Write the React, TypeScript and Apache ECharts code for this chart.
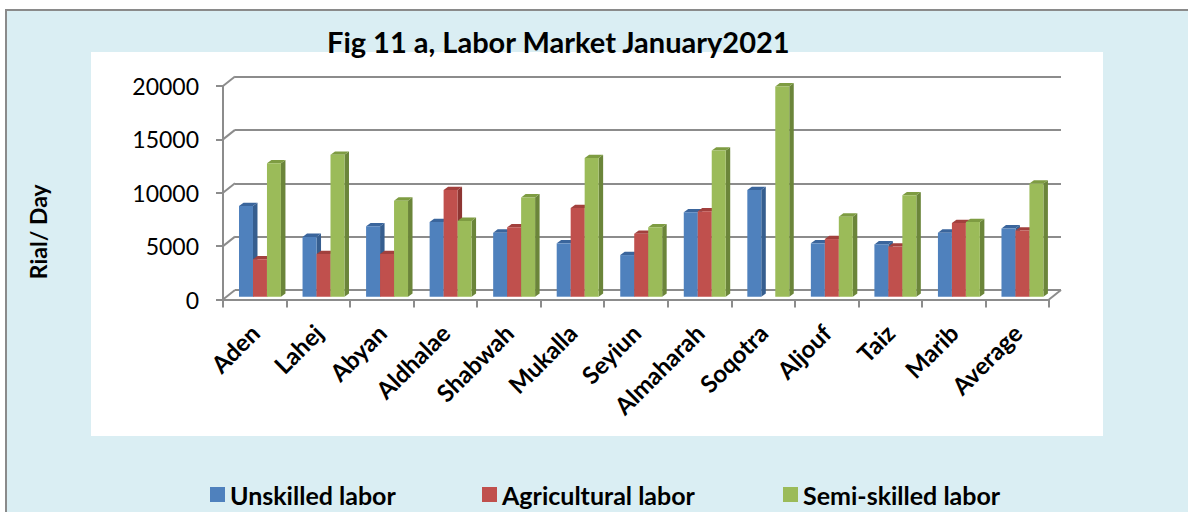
import React, { useEffect, useRef } from "react";
import * as echarts from "echarts";

const categories = ["Aden", "Lahej", "Abyan", "Aldhalae", "Shabwah", "Mukalla", "Seyiun", "Almaharah", "Soqotra", "Aljouf", "Taiz", "Marib", "Average"];
const unskilled = [8500, 5600, 6600, 7000, 6000, 5000, 3900, 7900, 10000, 5000, 4900, 6000, 6400];
const agricultural = [3500, 4000, 4000, 10000, 6500, 8300, 5900, 8000, null, 5400, 4700, 6900, 6200];
const semiSkilled = [12500, 13300, 9000, 7100, 9300, 13000, 6500, 13700, 19700, 7500, 9500, 7000, 10600];
const yTicks = [0, 5000, 10000, 15000, 20000];
const seriesNames = ["Unskilled labor", "Agricultural labor", "Semi-skilled labor"];

const FONT = 'Lato, "Open Sans", sans-serif';
const GRID_COLOR = "#8C8C8C";
const DEPTH_X = 12;
const DEPTH_Y = 9.5;
const BAR_DX = 4.5;
const BAR_DY = 3.3;
const LIFT = 2.8;

const palettes = [
  { front: "#4F81BD", side: "#365E8F", top: "#3A659C" },
  { front: "#C0504D", side: "#8E3633", top: "#A2403D" },
  { front: "#9BBB59", side: "#6B853A", top: "#7E9C42" },
];

function barRenderer(s: number) {
  const p = palettes[s];
  return (params: any, api: any) => {
    const v = api.value(1);
    if (v == null || isNaN(v)) return null;
    const idx = api.value(0);
    const a = api.coord([idx, v]);
    const b = api.coord([idx, 0]);
    const cw = api.size([1, 0])[0];
    const w = cw * 0.22;
    const x0 = a[0] - cw / 2 + cw * 0.252 + s * w;
    const top = a[1] - LIFT;
    const bot = b[1] - LIFT;
    return {
      type: "group",
      children: [
        {
          type: "polygon",
          shape: { points: [[x0 + w, top], [x0 + w + BAR_DX, top - BAR_DY], [x0 + w + BAR_DX, bot - BAR_DY], [x0 + w, bot]] },
          style: { fill: p.side },
        },
        {
          type: "polygon",
          shape: { points: [[x0, top], [x0 + BAR_DX, top - BAR_DY], [x0 + w + BAR_DX, top - BAR_DY], [x0 + w, top]] },
          style: { fill: p.top },
        },
        {
          type: "rect",
          shape: { x: x0, y: top, width: w, height: bot - top },
          style: { fill: p.front },
        },
      ],
    };
  };
}

function diagRenderer(params: any, api: any) {
  const v = api.value(0);
  const cs = params.coordSys;
  const y = api.coord([0, v])[1];
  const children: any[] = [
    { type: "line", shape: { x1: cs.x, y1: y, x2: cs.x + DEPTH_X, y2: y - DEPTH_Y }, style: { stroke: GRID_COLOR, lineWidth: 2 } },
  ];
  if (v === 0) {
    const xr = cs.x + cs.width;
    children.push({ type: "line", shape: { x1: xr, y1: y, x2: xr + DEPTH_X, y2: y - DEPTH_Y }, style: { stroke: GRID_COLOR, lineWidth: 2 } });
  }
  return { type: "group", children };
}

export default function App() {
  const ref = useRef<HTMLDivElement>(null);
  useEffect(() => {
    if (!ref.current) return;
    const chart = echarts.init(ref.current, null, { renderer: "svg" });
    const seriesData = [unskilled, agricultural, semiSkilled];
    const option: any = {
      animation: false,
      textStyle: { fontFamily: FONT },
      graphic: [
        { type: "rect", z: -10, silent: true, shape: { x: 6, y: 10, width: 1200, height: 520 }, style: { fill: "#DAEEF3", stroke: "#8A8A8A", lineWidth: 2 } },
        { type: "rect", z: -9, silent: true, shape: { x: 91, y: 52, width: 1012, height: 384 }, style: { fill: "#FFFFFF" } },
      ],
      title: {
        text: "Fig 11 a, Labor Market January2021",
        left: 327,
        top: 27,
        padding: 0,
        textStyle: { fontFamily: FONT, fontWeight: "bold", fontSize: 29, color: "#000" },
      },
      legend: seriesNames.map((n, i) => ({
        data: [n],
        left: [210, 482, 783][i],
        top: 482,
        icon: "rect",
        itemWidth: 15,
        itemHeight: 15,
        itemGap: 0,
        padding: 0,
        textStyle: { fontFamily: FONT, fontWeight: "bold", fontSize: 25, color: "#000" },
      })),
      grid: [
        { left: 223, top: 86, width: 826, height: 213.5 },
        { left: 223 + DEPTH_X, top: 86 - DEPTH_Y, width: 826, height: 213.5 },
      ],
      xAxis: [
        {
          type: "category",
          gridIndex: 0,
          data: categories,
          axisLine: { show: true, lineStyle: { color: GRID_COLOR, width: 2 } },
          axisTick: { show: true, length: 8, interval: 0, lineStyle: { color: GRID_COLOR, width: 2 } },
          axisLabel: { interval: 0, rotate: 45, margin: 29, color: "#000", fontFamily: FONT, fontWeight: "bold", fontSize: 24 },
          splitLine: { show: false },
        },
        {
          type: "category",
          gridIndex: 1,
          data: categories,
          show: false,
        },
      ],
      yAxis: [
        {
          type: "value",
          gridIndex: 0,
          min: 0,
          max: 20000,
          interval: 5000,
          name: "Rial/ Day",
          nameLocation: "middle",
          nameRotate: 90,
          nameGap: 174,
          nameTextStyle: { fontFamily: FONT, fontWeight: "bold", fontSize: 23, color: "#000", padding: [0, 78, 0, 0] },
          axisLine: { show: true, lineStyle: { color: GRID_COLOR, width: 2 } },
          axisTick: { show: true, length: 7, lineStyle: { color: GRID_COLOR, width: 2 } },
          axisLabel: { margin: 24, color: "#000", fontFamily: FONT, fontSize: 23, formatter: (v: number) => String(v) },
          splitLine: { show: false },
        },
        {
          type: "value",
          gridIndex: 1,
          min: 0,
          max: 20000,
          interval: 5000,
          axisLine: { show: false },
          axisTick: { show: false },
          axisLabel: { show: false },
          splitLine: { show: true, lineStyle: { color: GRID_COLOR, width: 2 } },
        },
      ],
      series: [
        {
          type: "custom",
          name: "diag",
          xAxisIndex: 0,
          yAxisIndex: 0,
          silent: true,
          renderItem: diagRenderer,
          data: yTicks.map((v) => [v]),
          encode: { y: 0 },
          z: 1,
        },
        ...seriesNames.map((n, s) => ({
          type: "custom",
          name: n,
          xAxisIndex: 0,
          yAxisIndex: 0,
          itemStyle: { color: palettes[s].front },
          renderItem: barRenderer(s),
          encode: { x: 0, y: 1 },
          data: categories.map((c, i) => [i, seriesData[s][i]]),
          z: 3 + s,
        })),
      ],
    };
    chart.setOption(option);
    return () => chart.dispose();
  }, []);
  return <div ref={ref} style={{ position: "absolute", left: 0, top: 0, width: 1188, height: 512 }} />;
}
